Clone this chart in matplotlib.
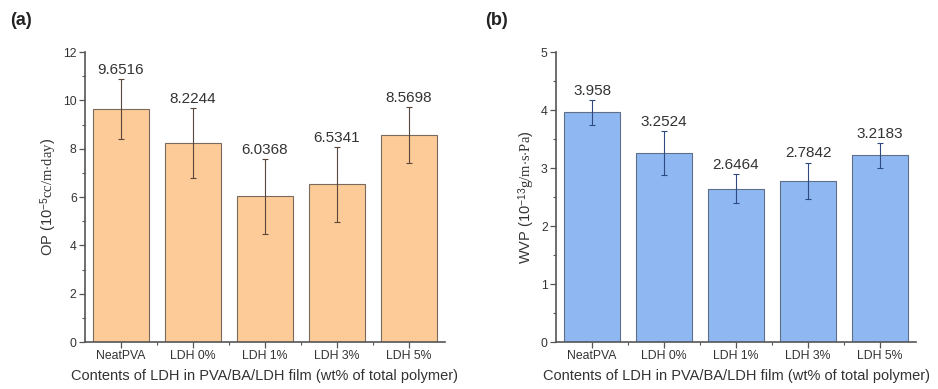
import matplotlib
matplotlib.use("Agg")
import matplotlib.pyplot as plt
from matplotlib.ticker import MultipleLocator
import numpy as np

plt.rcParams['font.family'] = ['Liberation Sans', 'DejaVu Sans']
plt.rcParams['mathtext.fontset'] = 'custom'
plt.rcParams['mathtext.rm'] = 'Liberation Serif'
plt.rcParams['mathtext.it'] = 'Liberation Serif:italic'
plt.rcParams['mathtext.bf'] = 'Liberation Serif:bold'
plt.rcParams['mathtext.sf'] = 'Liberation Sans'

categories = ["NeatPVA", "LDH 0%", "LDH 1%", "LDH 3%", "LDH 5%"]
op_values = [9.6516, 8.2244, 6.0368, 6.5341, 8.5698]
op_errors = [1.24, 1.45, 1.55, 1.55, 1.16]
wvp_values = [3.958, 3.2524, 2.6464, 2.7842, 3.2183]
wvp_errors = [0.22, 0.38, 0.245, 0.31, 0.22]
op_labels = ["9.6516", "8.2244", "6.0368", "6.5341", "8.5698"]
wvp_labels = ["3.958", "3.2524", "2.6464", "2.7842", "3.2183"]

fig = plt.figure(figsize=(9.38, 3.89), dpi=100)
ax_a = fig.add_axes([0.0906, 0.1208, 0.3838, 0.7455])
ax_b = fig.add_axes([0.5928, 0.1208, 0.3838, 0.7455])

spine_col = "#555555"
text_col = "#333333"
xlabel = "Contents of LDH in PVA/BA/LDH film (wt% of total polymer)"


def draw_panel(ax, values, errors, labels, face, edge, ecol, ymax, major, ylabel):
    x = np.arange(1, len(categories) + 1)
    ax.bar(x, values, width=0.79, color=face, edgecolor=edge, linewidth=0.8, zorder=2)
    ax.errorbar(x, values, yerr=errors, fmt="none", ecolor=ecol, elinewidth=0.8,
                capsize=2, capthick=0.8, zorder=3)
    for xi, v, e, lab in zip(x, values, errors, labels):
        ax.annotate(lab, (xi, v + e), xytext=(0, 1.5), textcoords="offset points",
                    ha="center", va="bottom", fontsize=11, color=text_col)
    ax.set_xlim(0.5, 5.5)
    ax.set_ylim(0, ymax)
    ax.set_xticks(x)
    ax.set_xticklabels(categories)
    ax.set_xticks(np.arange(1.5, 5.5, 1.0), minor=True)
    ax.yaxis.set_major_locator(MultipleLocator(major))
    ax.yaxis.set_minor_locator(MultipleLocator(major / 2))
    for s in ("top", "right"):
        ax.spines[s].set_visible(False)
    for s in ("left", "bottom"):
        ax.spines[s].set_color(spine_col)
        ax.spines[s].set_linewidth(1.2)
    ax.tick_params(which="major", direction="out", length=4, width=0.9,
                   color=spine_col, labelsize=8.8, labelcolor=text_col, pad=2)
    ax.tick_params(which="minor", direction="out", length=2.5, width=0.8,
                   color=spine_col)
    ax.set_xlabel(xlabel, fontsize=10.5, color=text_col, labelpad=5)
    ax.set_ylabel(ylabel, fontsize=10.5, color=text_col, labelpad=3)


draw_panel(ax_a, op_values, op_errors, op_labels, "#FDCB98", "#7a6a5e", "#5a4638",
           12, 2, r"OP (10$^{\mathsf{-5}}$$\mathrm{cc/m{\cdot}day}$)")
draw_panel(ax_b, wvp_values, wvp_errors, wvp_labels, "#8FB8F2", "#5f6f88", "#2f4a80",
           5, 1, r"WVP (10$^{\mathsf{-13}}$$\mathrm{g/m{\cdot}s{\cdot}Pa}$)")

fig.text(0.011, 0.948, "(a)", fontsize=13, fontweight="bold", color="#222222",
         va="center", ha="left")
fig.text(0.517, 0.948, "(b)", fontsize=13, fontweight="bold", color="#222222",
         va="center", ha="left")

fig.savefig("out.png", dpi=100, facecolor="white")
